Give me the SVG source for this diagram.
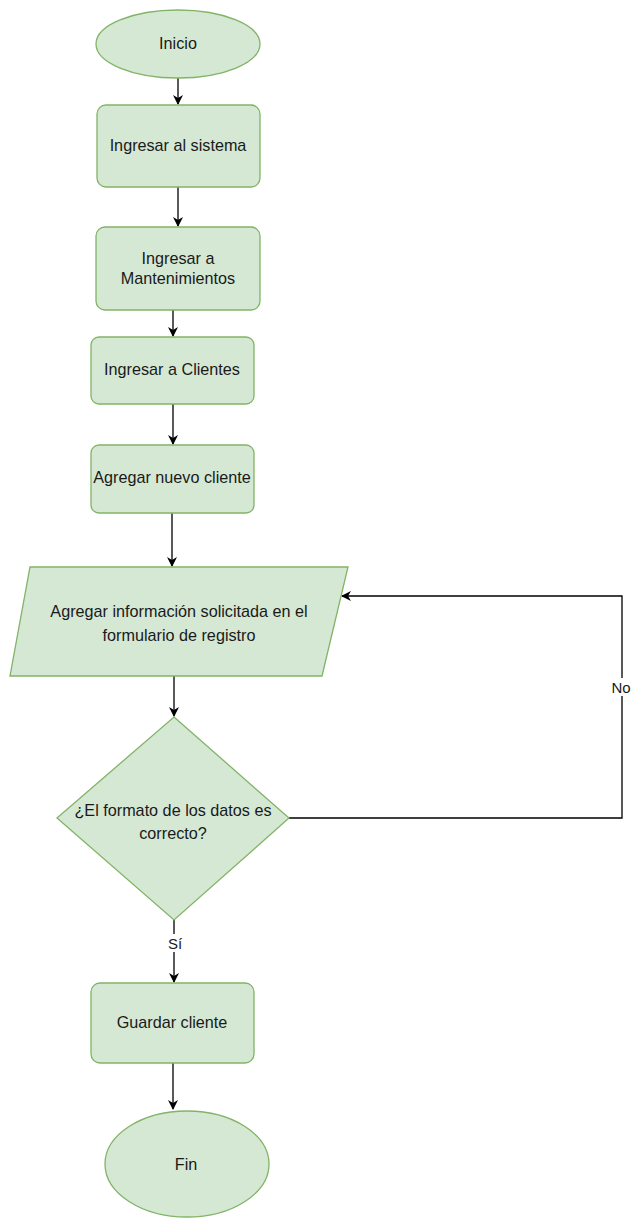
<svg xmlns="http://www.w3.org/2000/svg" width="631" height="1218" viewBox="0 0 631 1218">
<style>
.n{fill:#d5e8d4;stroke:#82b366;stroke-width:1.3}
.t{font-family:"Liberation Sans",Arial,sans-serif;font-size:16.2px;fill:#1a1a1a;text-anchor:middle;dominant-baseline:central}
.s{font-size:15px}
.c{fill:none;stroke:#000;stroke-width:1.3;marker-end:url(#a)}
</style>
<defs>
<marker id="a" viewBox="0 0 10 10" refX="9" refY="5" markerWidth="10" markerHeight="10" markerUnits="userSpaceOnUse" orient="auto">
<path d="M0,0 L10,5 L0,10 L3,5 Z" fill="#000"/>
</marker>
</defs>
<rect width="631" height="1218" fill="#fff"/>
<g id="connectors">
<path class="c" d="M178,78 V104"/>
<path class="c" d="M178,187 V226"/>
<path class="c" d="M173,310 V336"/>
<path class="c" d="M173,404 V444"/>
<path class="c" d="M172,513 V566"/>
<path class="c" d="M174,676 V716"/>
<path class="c" d="M289,818 H622 V596 H342"/>
<rect x="610" y="678" width="21" height="18" fill="#fff"/>
<text class="t s" x="621" y="687">No</text>
<path class="c" d="M174,920 V982"/>
<rect x="164" y="934" width="20" height="18" fill="#fff"/>
<text class="t s" x="175" y="943">Sí</text>
<path class="c" d="M173,1063 V1109"/>
</g>
<g id="inicio">
<ellipse class="n" cx="178" cy="44" rx="82" ry="34"/>
<text class="t" x="178" y="43">Inicio</text>
</g>
<g id="ingresar-sistema">
<rect class="n" x="97" y="105" width="163" height="82" rx="9"/>
<text class="t" x="178" y="145">Ingresar al sistema</text>
</g>
<g id="ingresar-mantenimientos">
<rect class="n" x="96" y="227" width="164" height="83" rx="9"/>
<text class="t" x="178" y="258">Ingresar a</text>
<text class="t" x="178" y="278">Mantenimientos</text>
</g>
<g id="ingresar-clientes">
<rect class="n" x="91" y="337" width="163" height="67" rx="8"/>
<text class="t" x="172" y="369">Ingresar a Clientes</text>
</g>
<g id="agregar-cliente">
<rect class="n" x="91" y="445" width="163" height="68" rx="8"/>
<text class="t" x="172" y="477">Agregar nuevo cliente</text>
</g>
<g id="agregar-info">
<polygon class="n" points="30,567 348,567 322,676 10,676"/>
<text class="t" x="179" y="611">Agregar información solicitada en el</text>
<text class="t" x="179" y="635">formulario de registro</text>
</g>
<g id="decision">
<polygon class="n" points="174,717 289,818 174,920 57,818"/>
<text class="t" x="173" y="810">¿El formato de los datos es</text>
<text class="t" x="173" y="833">correcto?</text>
</g>
<g id="guardar">
<rect class="n" x="91" y="983" width="163" height="80" rx="9"/>
<text class="t" x="172" y="1022">Guardar cliente</text>
</g>
<g id="fin">
<ellipse class="n" cx="187" cy="1164" rx="82" ry="53"/>
<text class="t" x="186" y="1164">Fin</text>
</g>
</svg>
